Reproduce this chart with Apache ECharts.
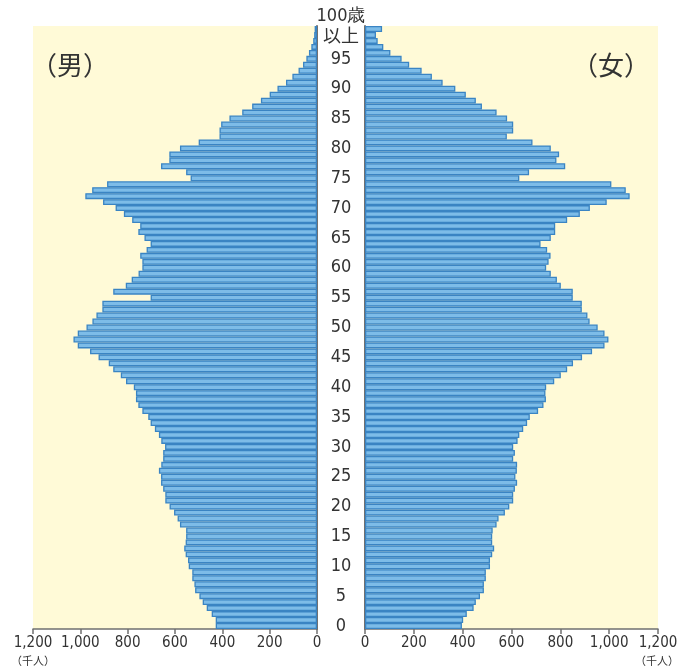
<!DOCTYPE html>
<html>
<head>
<meta charset="utf-8">
<script src="https://cdn.jsdelivr.net/npm/echarts@6/dist/echarts.min.js"></script>
<style>
html,body{margin:0;padding:0;background:#fff;}
#main{width:695px;height:672px;}
</style>
</head>
<body>
<div id="main"></div>
<script>
// Ages 0..100 (100 = 100歳以上)
var ages = [];
for (var i = 0; i <= 100; i++) ages.push(i);

// Population in thousands, index = age
var male = [428,428,445,466,483,497,515,518,527,527,
            542,545,555,561,555,553,553,579,589,604,
            623,641,641,650,659,659,668,658,650,650,
            642,658,668,685,703,713,738,755,765,765,
            774,807,829,861,880,923,959,1011,1029,1011,
            974,949,932,907,907,703,861,808,783,754,
            738,738,747,720,703,729,755,747,781,816,
            851,904,979,950,887,534,553,659,624,624,
            579,500,412,412,405,370,316,274,237,200,
            167,131,104,78,59,45,34,24,16,12,
            10];
var female = [397,402,417,445,454,471,487,487,495,495,
              512,512,521,529,521,521,523,539,547,573,
              591,607,607,614,623,616,622,623,607,614,
              607,625,632,648,664,675,709,731,741,739,
              742,775,802,828,852,889,930,981,997,981,
              953,920,911,888,888,851,851,802,786,761,
              742,752,760,746,719,761,779,779,828,880,
              921,990,1084,1068,1009,632,672,820,784,795,
              761,686,581,607,607,582,539,479,454,413,
              370,318,274,232,181,150,104,75,52,45,
              70];
var xTicks = [0,200,400,600,800,1000,1200];

var FONT = '"Liberation Sans Narrow","DejaVu Sans Condensed","Noto Sans",sans-serif';
var CJK = '"Noto Sans CJK JP","Noto Sans",sans-serif';
var axisGray = '#707070';
var barFill = '#7dbce8';
var barLine = '#3a84c3';

function fmt(v){ return v.toLocaleString('en-US'); }

var chart = echarts.init(document.getElementById('main'), null, {renderer:'canvas'});
chart.setOption({
  animation: false,
  backgroundColor: '#ffffff',
  grid: [
    {left:33, right:378, top:26, bottom:43, show:true, backgroundColor:'#fffad7', borderWidth:0, containLabel:false},
    {left:365, right:37, top:26, bottom:43, show:true, backgroundColor:'#fffad7', borderWidth:0, containLabel:false}
  ],
  xAxis: [
    {gridIndex:0, type:'value', inverse:true, min:0, max:1200, interval:200,
     splitLine:{show:false},
     axisLine:{show:true, lineStyle:{color:axisGray, width:1.5}},
     axisTick:{show:true, length:5, lineStyle:{color:axisGray, width:1.5}},
     axisLabel:{margin:7, fontSize:15, color:'#333', fontFamily:FONT, formatter:fmt}},
    {gridIndex:1, type:'value', min:0, max:1200, interval:200,
     splitLine:{show:false},
     axisLine:{show:true, lineStyle:{color:axisGray, width:1.5}},
     axisTick:{show:true, length:5, lineStyle:{color:axisGray, width:1.5}},
     axisLabel:{margin:7, fontSize:15, color:'#333', fontFamily:FONT, formatter:fmt}}
  ],
  yAxis: [
    {gridIndex:0, type:'category', data:ages, position:'right',
     axisLine:{show:true, onZero:false, lineStyle:{color:axisGray, width:2}},
     axisTick:{show:false}, axisLabel:{show:false}},
    {gridIndex:1, type:'category', data:ages, position:'left',
     axisLine:{show:true, onZero:false, lineStyle:{color:axisGray, width:2}},
     axisTick:{show:false},
     axisLabel:{show:true, margin:24, align:'center', fontSize:18, color:'#333', fontFamily:FONT,
       interval:function(idx, val){ return idx % 5 === 0 && idx < 100; }}}
  ],
  series: [
    {type:'bar', name:'男', xAxisIndex:0, yAxisIndex:0, data:male, barCategoryGap:'0%',
     itemStyle:{color:barFill, borderColor:barLine, borderWidth:1.3}},
    {type:'bar', name:'女', xAxisIndex:1, yAxisIndex:1, data:female, barCategoryGap:'0%',
     itemStyle:{color:barFill, borderColor:barLine, borderWidth:1.3}}
  ],
  graphic: [
    {type:'text', position:[341,16], style:{text:'100歳', x:0, y:0, align:'center', verticalAlign:'middle', fontSize:18, fill:'#333', fontFamily:FONT}},
    {type:'text', position:[341,35], style:{text:'以上', x:0, y:0, align:'center', verticalAlign:'middle', fontSize:18, fill:'#333', fontFamily:CJK}},
    {type:'text', position:[70,65], style:{text:'（男）', align:'center', verticalAlign:'middle', fontSize:26, fill:'#333', fontFamily:CJK}},
    {type:'text', position:[611,65], style:{text:'（女）', align:'center', verticalAlign:'middle', fontSize:26, fill:'#333', fontFamily:CJK}},
    {type:'text', position:[33,661], style:{text:'（千人）', align:'center', verticalAlign:'middle', fontSize:11, fill:'#333', fontFamily:CJK}},
    {type:'text', position:[657,661], style:{text:'（千人）', align:'center', verticalAlign:'middle', fontSize:11, fill:'#333', fontFamily:CJK}}
  ]
});
</script>
</body>
</html>
